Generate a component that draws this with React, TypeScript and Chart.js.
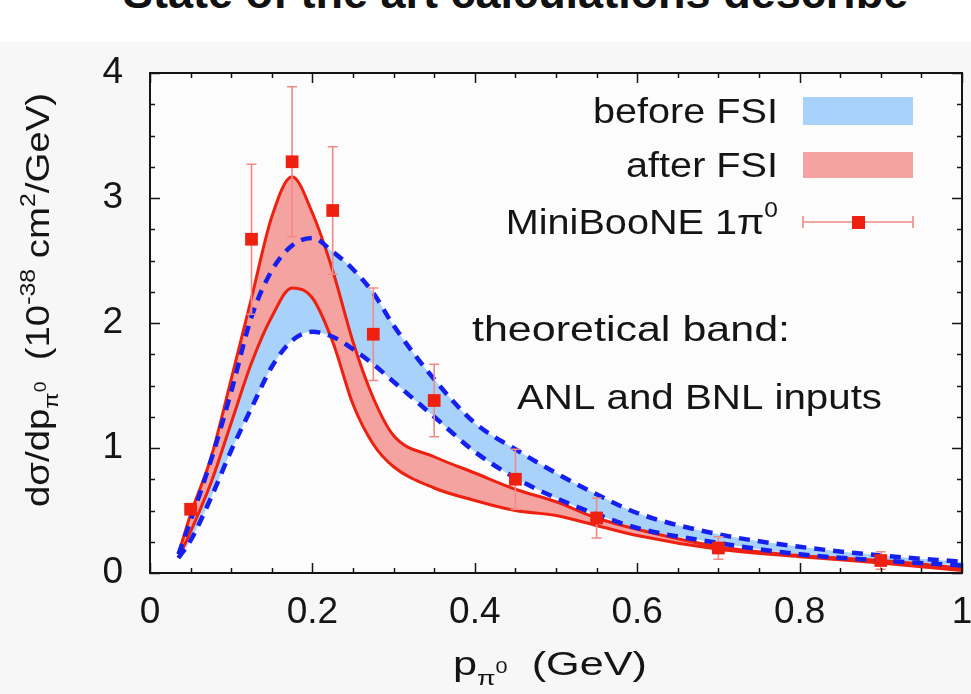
import React, { useEffect, useRef } from "react";
import { Chart, registerables } from "chart.js";

Chart.register(...registerables);

// ---------------- data ----------------
const xGrid = [0.035, 0.05, 0.075, 0.1, 0.125, 0.15, 0.175, 0.2, 0.225, 0.25, 0.275, 0.3, 0.35, 0.4, 0.45, 0.5, 0.55, 0.6, 0.7, 0.8, 0.9, 1.0];
const beforeUpper = [0.15, 0.42, 0.9, 1.45, 2.05, 2.42, 2.62, 2.68, 2.57, 2.43, 2.24, 1.98, 1.55, 1.2, 0.99, 0.8, 0.63, 0.48, 0.31, 0.21, 0.14, 0.09];
const beforeLower = [0.12, 0.26, 0.6, 0.98, 1.32, 1.65, 1.86, 1.93, 1.89, 1.79, 1.67, 1.53, 1.25, 0.97, 0.76, 0.6, 0.47, 0.36, 0.24, 0.15, 0.1, 0.06];
const afterUpper = [0.15, 0.47, 0.92, 1.55, 2.2, 2.85, 3.17, 2.88, 2.42, 1.85, 1.4, 1.1, 0.93, 0.8, 0.67, 0.57, 0.44, 0.35, 0.21, 0.14, 0.1, 0.04];
const afterLower = [0.12, 0.33, 0.72, 1.2, 1.68, 2.05, 2.28, 2.2, 1.85, 1.35, 1.03, 0.85, 0.68, 0.58, 0.5, 0.46, 0.38, 0.3, 0.19, 0.13, 0.08, 0.02];

const dataX = [0.05, 0.125, 0.175, 0.225, 0.275, 0.35, 0.45, 0.55, 0.7, 0.9];
const dataY = [0.51, 2.67, 3.29, 2.9, 1.91, 1.38, 0.75, 0.44, 0.2, 0.1];
const dataErr = [0.04, 0.6, 0.6, 0.51, 0.37, 0.29, 0.24, 0.16, 0.09, 0.07];

const xTickLabels = ["0", "0.2", "0.4", "0.6", "0.8", "1"];
const yTickLabels = ["0", "1", "2", "3", "4"];
const legendLabels = ["before FSI", "after FSI", "MiniBooNE 1\u03c0"];
const noteLines = ["theoretical band:", "ANL and BNL inputs"];
const titleText = "State of the art calculations describe";

// ---------------- styles ----------------
const FONT = '"Liberation Sans", Arial, Helvetica, sans-serif';
const BLUE_FILL = "#a8d2fa";
const BLUE_LINE = "#1620ee";
const RED_FILL = "#f5a3a1";
const RED_LINE = "#ee2010";
const ERR_COLOR = "#ee8a88";
const INK = "#151515";

const pts = (xs: number[], ys: number[]) => xs.map((x, i) => ({ x, y: ys[i] }));

type Seg = { t: string; s?: number; dy?: number };

function measureRich(ctx: CanvasRenderingContext2D, segs: Seg[], size: number) {
  return segs.map((sg) => {
    ctx.font = `${size * (sg.s ?? 1)}px ${FONT}`;
    return ctx.measureText(sg.t).width;
  });
}

function drawRich(
  ctx: CanvasRenderingContext2D,
  segs: Seg[],
  x: number,
  y: number,
  size: number,
  align: "left" | "right" | "center",
  target?: number,
  forcedStretch?: number
) {
  const widths = measureRich(ctx, segs, size);
  const total = widths.reduce((a, b) => a + b, 0);
  const stretch = forcedStretch ?? (target ? target / total : 1);
  ctx.save();
  ctx.translate(x, y);
  ctx.scale(stretch, 1);
  ctx.textAlign = "left";
  ctx.textBaseline = "alphabetic";
  ctx.fillStyle = INK;
  let cx = align === "left" ? 0 : align === "right" ? -total : -total / 2;
  segs.forEach((sg, i) => {
    ctx.font = `${size * (sg.s ?? 1)}px ${FONT}`;
    ctx.fillText(sg.t, cx, (sg.dy ?? 0) * size);
    cx += widths[i];
  });
  ctx.restore();
  return stretch;
}

const decorPlugin = {
  id: "decor",
  beforeDraw(chart: any) {
    const { ctx, chartArea: a } = chart;
    ctx.save();
    ctx.fillStyle = "#fcfcfc";
    ctx.fillRect(a.left, a.top, a.right - a.left, a.bottom - a.top);
    ctx.restore();
  },
  beforeDatasetDraw(chart: any, args: any) {
    if (args.index !== 0) return;
    const { ctx, scales } = chart;
    const xs = scales.x;
    const ys = scales.y;
    ctx.save();
    ctx.strokeStyle = ERR_COLOR;
    ctx.lineWidth = 1.6;
    dataX.forEach((xv, i) => {
      const px = xs.getPixelForValue(xv);
      const top = ys.getPixelForValue(dataY[i] + dataErr[i]);
      const bot = ys.getPixelForValue(Math.max(0, dataY[i] - dataErr[i]));
      ctx.beginPath();
      ctx.moveTo(px, top);
      ctx.lineTo(px, bot);
      ctx.moveTo(px - 5, top);
      ctx.lineTo(px + 5, top);
      ctx.moveTo(px - 5, bot);
      ctx.lineTo(px + 5, bot);
      ctx.stroke();
    });
    ctx.restore();
  },
  afterDatasetsDraw(chart: any) {
    const { ctx, chartArea: a, scales } = chart;
    const xs = scales.x;
    const ys = scales.y;
    ctx.save();
    ctx.strokeStyle = INK;
    ctx.lineWidth = 2;
    ctx.strokeRect(a.left, a.top, a.right - a.left, a.bottom - a.top);
    ctx.lineWidth = 1.5;
    ctx.beginPath();
    for (let k = 0; k <= 20; k++) {
      const v = k * 0.05;
      const px = Math.round(xs.getPixelForValue(v)) + 0.5;
      const len = k % 4 === 0 ? 10 : 5;
      ctx.moveTo(px, a.bottom);
      ctx.lineTo(px, a.bottom - len);
      ctx.moveTo(px, a.top);
      ctx.lineTo(px, a.top + len);
    }
    for (let k = 0; k <= 16; k++) {
      const v = k * 0.25;
      const py = Math.round(ys.getPixelForValue(v)) + 0.5;
      const len = k % 4 === 0 ? 10 : 5;
      ctx.moveTo(a.left, py);
      ctx.lineTo(a.left + len, py);
      ctx.moveTo(a.right, py);
      ctx.lineTo(a.right - len, py);
    }
    ctx.stroke();
    ctx.restore();
  },
  afterDraw(chart: any) {
    const { ctx } = chart;
    // legend
    const boxL = 803;
    const boxR = 913;
    const st = drawRich(ctx, [{ t: legendLabels[0] }], 778, 123, 35, "right", 185);
    drawRich(ctx, [{ t: legendLabels[1] }], 778, 177, 35, "right", undefined, st);
    drawRich(ctx, [{ t: legendLabels[2] }, { t: "0", s: 0.62, dy: -0.48 }], 778, 234, 35, "right", undefined, st);
    ctx.save();
    ctx.fillStyle = BLUE_FILL;
    ctx.fillRect(boxL, 97, boxR - boxL, 28);
    ctx.fillStyle = RED_FILL;
    ctx.fillRect(boxL, 152, boxR - boxL, 26);
    ctx.strokeStyle = ERR_COLOR;
    ctx.lineWidth = 1.6;
    ctx.beginPath();
    ctx.moveTo(boxL, 222);
    ctx.lineTo(boxR, 222);
    ctx.moveTo(boxL, 216);
    ctx.lineTo(boxL, 228);
    ctx.moveTo(boxR, 216);
    ctx.lineTo(boxR, 228);
    ctx.stroke();
    ctx.fillStyle = RED_LINE;
    ctx.fillRect(852, 216, 13, 13);
    ctx.restore();

    // notes
    drawRich(ctx, [{ t: noteLines[0] }], 472, 341, 35, "left", 318);
    drawRich(ctx, [{ t: noteLines[1] }], 517, 409, 35, "left", 365);

    // x title
    drawRich(
      ctx,
      [{ t: "p" }, { t: "\u03c0", s: 0.62, dy: 0.28 }, { t: "0", s: 0.5, dy: -0.05 }, { t: "  (GeV)" }],
      550,
      675,
      34,
      "center",
      194
    );

    // y title
    ctx.save();
    ctx.translate(49, 300);
    ctx.rotate(-Math.PI / 2);
    drawRich(
      ctx,
      [
        { t: "d\u03c3/dp" },
        { t: "\u03c0", s: 0.62, dy: 0.28 },
        { t: "0", s: 0.5, dy: -0.1 },
        { t: "  (10" },
        { t: "-38", s: 0.65, dy: -0.42 },
        { t: " cm" },
        { t: "2", s: 0.65, dy: -0.42 },
        { t: "/GeV)" },
      ],
      0,
      0,
      33,
      "center",
      414
    );
    ctx.restore();
  },
};

export default function App() {
  const ref = useRef<HTMLCanvasElement | null>(null);

  useEffect(() => {
    document.body.style.margin = "0";
    const canvas = ref.current;
    if (!canvas) return;
    const lineBase = { pointRadius: 0, cubicInterpolationMode: "monotone" as const, fill: false };
    const chart = new Chart(canvas, {
      type: "line",
      data: {
        datasets: [
          {
            label: "MiniBooNE",
            data: pts(dataX, dataY),
            showLine: false,
            pointStyle: "rect",
            pointRadius: 9,
            pointBackgroundColor: RED_LINE,
            pointBorderColor: RED_LINE,
            pointBorderWidth: 0,
            order: 0,
          },
          { ...lineBase, label: "before upper", data: pts(xGrid, beforeUpper), borderColor: BLUE_LINE, borderWidth: 4.5, borderDash: [11, 8], order: 1 },
          { ...lineBase, label: "before lower", data: pts(xGrid, beforeLower), borderColor: BLUE_LINE, borderWidth: 4.5, borderDash: [11, 8], order: 1 },
          { ...lineBase, label: "after upper", data: pts(xGrid, afterUpper), borderColor: RED_LINE, borderWidth: 3, order: 2 },
          { ...lineBase, label: "after lower", data: pts(xGrid, afterLower), borderColor: RED_LINE, borderWidth: 3, order: 2 },
          { ...lineBase, label: "after band", data: pts(xGrid, afterUpper), borderWidth: 0, fill: "+1", backgroundColor: RED_FILL, order: 3 },
          { ...lineBase, label: "after band low", data: pts(xGrid, afterLower), borderWidth: 0, order: 3 },
          { ...lineBase, label: "before band", data: pts(xGrid, beforeUpper), borderWidth: 0, fill: "+1", backgroundColor: BLUE_FILL, order: 4 },
          { ...lineBase, label: "before band low", data: pts(xGrid, beforeLower), borderWidth: 0, order: 4 },
        ],
      },
      options: {
        responsive: false,
        animation: false,
        devicePixelRatio: 1,
        layout: { padding: { top: 73, right: 9, left: 0, bottom: 0 } },
        plugins: { legend: { display: false }, tooltip: { enabled: false } },
        scales: {
          x: {
            type: "linear",
            min: 0,
            max: 1,
            grid: { display: false, drawTicks: false },
            border: { display: false },
            ticks: {
              stepSize: 0.2,
              padding: 18,
              maxRotation: 0,
              autoSkip: false,
              color: INK,
              font: { family: FONT, size: 37 },
              callback: (_v: any, i: number) => xTickLabels[i],
            },
            afterFit: (s: any) => {
              s.height = 121;
              s.paddingLeft = 0;
              s.paddingRight = 0;
            },
          },
          y: {
            type: "linear",
            min: 0,
            max: 4,
            grid: { display: false, drawTicks: false },
            border: { display: false },
            ticks: {
              stepSize: 1,
              padding: 27,
              color: INK,
              font: { family: FONT, size: 37 },
              callback: (_v: any, i: number) => yTickLabels[i],
            },
            afterFit: (s: any) => {
              s.width = 150;
              s.paddingTop = 0;
              s.paddingBottom = 0;
            },
          },
        },
      },
      plugins: [decorPlugin],
    } as any);
    return () => chart.destroy();
  }, []);

  return (
    <div style={{ position: "relative", width: 971, height: 694, overflow: "hidden", background: "#f7f7f7" }}>
      <div style={{ position: "absolute", left: 0, top: 0, width: 971, height: 42, background: "#ffffff" }} />
      <div
        style={{
          position: "absolute",
          left: 123,
          top: -30,
          whiteSpace: "nowrap",
          font: `bold 45px ${FONT}`,
          lineHeight: "45px",
          color: "#111",
        }}
      >
        {titleText}
      </div>
      <canvas ref={ref} width={971} height={694} style={{ position: "absolute", left: 0, top: 0, width: 971, height: 694 }} />
    </div>
  );
}
